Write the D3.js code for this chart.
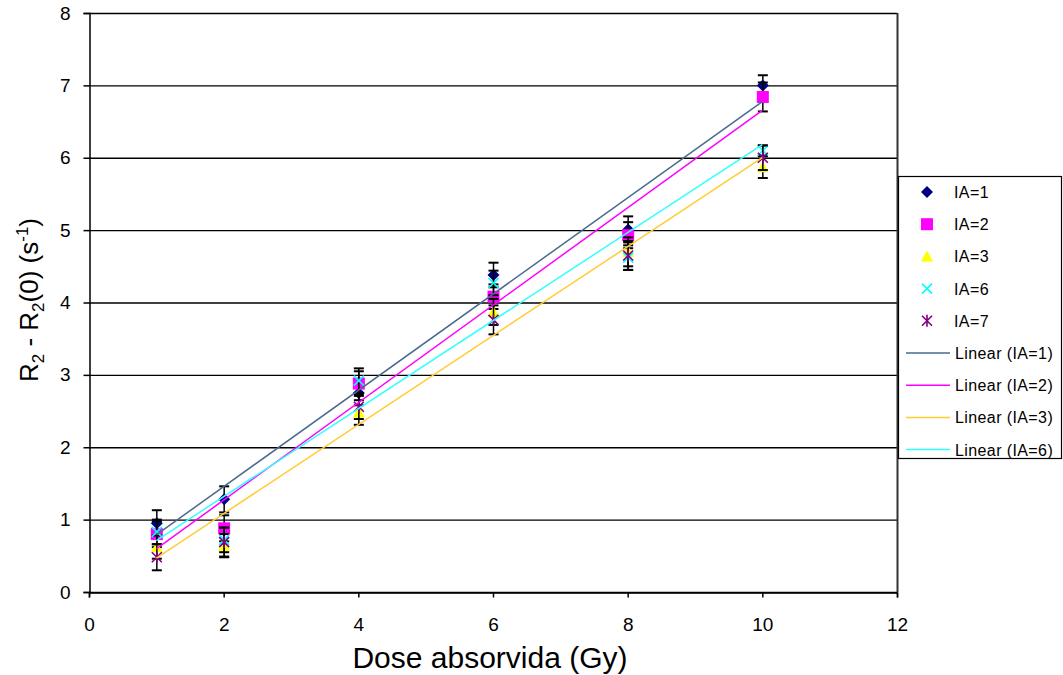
<!DOCTYPE html>
<html>
<head>
<meta charset="utf-8">
<script src="https://cdn.jsdelivr.net/npm/d3@7"></script>
<style>
  body { margin: 0; background: #fff; }
  text { font-family: "Liberation Sans", Arial, sans-serif; }
</style>
</head>
<body>
<div id="chart"></div>
<script>
// data
var doses = [1, 2, 4, 6, 8, 10];
var ia1 = [0.95, 1.28, 2.75, 4.38, 5.01, 7.00];
var ia2 = [0.80, 0.88, 2.88, 4.08, 4.93, 6.84];
var ia3 = [0.62, 0.64, 2.48, 3.87, 4.70, 5.87];
var ia6 = [0.83, 0.72, 2.92, 4.27, 4.62, 6.10];
var ia7 = [0.48, 0.69, 2.56, 3.76, 4.65, 6.00];
var err1 = [0.18, 0.18, 0.17, 0.17, 0.18, 0.14];
var err2 = [0.18, 0.18, 0.17, 0.17, 0.18, 0.20];
var err3 = [0.16, 0.16, 0.17, 0.18, 0.20, 0.15];
var err6 = [0.17, 0.17, 0.17, 0.17, 0.17, 0.07];
var err7 = [0.18, 0.20, 0.17, 0.20, 0.20, 0.17];
var seriesNames = ["IA=1", "IA=2", "IA=3", "IA=6", "IA=7"];
var xTicks = [0, 2, 4, 6, 8, 10, 12];
var yTicks = [0, 1, 2, 3, 4, 5, 6, 7, 8];

var svgWidth = 1063;
var svgHeight = 675;
var margin = { top: 13, right: 166, bottom: 83, left: 89 };
var width = 897 - margin.left;
var height = 592 - margin.top;

var series = [
  { name: seriesNames[0], values: ia1, err: err1, color: "#000080", shape: "diamond", trend: "#4a6a8e" },
  { name: seriesNames[1], values: ia2, err: err2, color: "#ff00ff", shape: "square", trend: "#ff00ff" },
  { name: seriesNames[2], values: ia3, err: err3, color: "#ffff00", shape: "triangle", trend: "#ffcc33" },
  { name: seriesNames[3], values: ia6, err: err6, color: "#00ffff", shape: "x", trend: "#33ffff" },
  { name: seriesNames[4], values: ia7, err: err7, color: "#800080", shape: "star", trend: null }
];

var svg = d3.select("#chart").append("svg")
  .attr("width", svgWidth)
  .attr("height", svgHeight);

var chartGroup = svg.append("g")
  .attr("transform", `translate(${margin.left},${margin.top})`);

var xScale = d3.scaleLinear().domain([0, 12]).range([0, width]);
var yScale = d3.scaleLinear().domain([0, 8]).range([height, 0]);

// gridlines
chartGroup.append("g")
  .selectAll("line")
  .data(yTicks)
  .enter()
  .append("line")
  .attr("x1", 0)
  .attr("x2", width)
  .attr("y1", d => yScale(d) + 0.5)
  .attr("y2", d => yScale(d) + 0.5)
  .attr("stroke", "#000")
  .attr("stroke-width", 1.3);

// right border
chartGroup.append("line")
  .attr("x1", width + 0.5).attr("x2", width + 0.5)
  .attr("y1", 0).attr("y2", height)
  .attr("stroke", "#333").attr("stroke-width", 2);

// axes
var bottomAxis = d3.axisBottom(xScale).tickValues(xTicks).tickSize(5).tickPadding(20);
var leftAxis = d3.axisLeft(yScale).tickValues(yTicks).tickSize(6).tickPadding(13);

var xAxis = chartGroup.append("g")
  .attr("transform", `translate(0,${height + 0.5})`)
  .call(bottomAxis);
var yAxis = chartGroup.append("g")
  .attr("transform", "translate(0.5,0)")
  .call(leftAxis);

[xAxis, yAxis].forEach(function(ax) {
  ax.attr("font-size", 19).attr("font-family", "'Liberation Sans Narrow', 'Liberation Sans', Arial, sans-serif");
  ax.select(".domain").attr("stroke", "#000").attr("stroke-width", 1.5);
  ax.selectAll(".tick line").attr("stroke", "#000").attr("stroke-width", 1.5);
  ax.selectAll("text").attr("fill", "#000")
    .style("font-family", "'Liberation Sans Narrow', 'Liberation Sans', Arial, sans-serif");
});

// trendlines (least squares)
function fit(values) {
  var mx = d3.mean(doses), my = d3.mean(values);
  var sxy = d3.sum(doses, (x, i) => (x - mx) * (values[i] - my));
  var sxx = d3.sum(doses, x => (x - mx) * (x - mx));
  var b = sxy / sxx;
  return { b: b, a: my - b * mx };
}

// error bars and markers, series by series
function marker(g, shape, color) {
  if (shape === "diamond") {
    g.append("path").attr("d", "M0,-6L6,0L0,6L-6,0Z").attr("fill", color);
  } else if (shape === "square") {
    g.append("rect").attr("x", -6).attr("y", -6).attr("width", 12).attr("height", 12).attr("fill", color);
  } else if (shape === "triangle") {
    g.append("path").attr("d", "M0,-6L6,5L-6,5Z").attr("fill", color);
  } else if (shape === "x") {
    g.append("path").attr("d", "M-5,-5L5,5M-5,5L5,-5").attr("stroke", color).attr("stroke-width", 1.6).attr("fill", "none");
  } else {
    g.append("path").attr("d", "M-5,-5L5,5M-5,5L5,-5M0,-6L0,6").attr("stroke", color).attr("stroke-width", 1.6).attr("fill", "none");
  }
}

series.forEach(function(s) {
  var pts = doses.map((x, i) => ({ x: x, y: s.values[i], e: s.err[i] }));
  var eg = chartGroup.append("g");
  pts.forEach(function(p) {
    var cx = xScale(p.x) + 0.5;
    var yt = yScale(p.y + p.e), yb = yScale(p.y - p.e);
    eg.append("line").attr("x1", cx).attr("x2", cx).attr("y1", yt).attr("y2", yb)
      .attr("stroke", "#000").attr("stroke-width", 1.5);
    [yt, yb].forEach(function(yy) {
      eg.append("line").attr("x1", cx - 5).attr("x2", cx + 5).attr("y1", yy).attr("y2", yy)
        .attr("stroke", "#000").attr("stroke-width", 2);
    });
  });
  pts.forEach(function(p) {
    var g = chartGroup.append("g")
      .attr("transform", `translate(${xScale(p.x) + 0.5},${yScale(p.y)})`);
    marker(g, s.shape, s.color);
  });
});

series.forEach(function(s) {
  if (!s.trend) return;
  var f = fit(s.values);
  chartGroup.append("line")
    .attr("x1", xScale(1)).attr("y1", yScale(f.a + f.b * 1))
    .attr("x2", xScale(10)).attr("y2", yScale(f.a + f.b * 10))
    .attr("stroke", s.trend).attr("stroke-width", 1.5);
});

// axis titles
svg.append("text")
  .attr("x", 490).attr("y", 668)
  .attr("text-anchor", "middle")
  .attr("font-size", 30)
  .text("Dose absorvida (Gy)");

var yTitle = svg.append("text")
  .attr("transform", "translate(38,300) rotate(-90)")
  .attr("text-anchor", "middle")
  .attr("font-size", 26);
yTitle.append("tspan").text("R");
yTitle.append("tspan").attr("font-size", 17).attr("dy", 6).text("2");
yTitle.append("tspan").attr("dy", -6).text(" - R");
yTitle.append("tspan").attr("font-size", 17).attr("dy", 6).text("2");
yTitle.append("tspan").attr("dy", -6).text("(0) (s");
yTitle.append("tspan").attr("font-size", 17).attr("dy", -10).text("-1");
yTitle.append("tspan").attr("dy", 10).text(")");

// legend
var legend = svg.append("g").attr("transform", "translate(898,176)");
legend.append("rect")
  .attr("x", 0.5).attr("y", 0.5).attr("width", 163).attr("height", 282)
  .attr("fill", "#fff").attr("stroke", "#000").attr("stroke-width", 1.2);

var legendItems = series.map(s => ({ label: s.name, kind: "marker", s: s }))
  .concat(series.filter(s => s.trend).map(s => ({ label: "Linear (" + s.name + ")", kind: "line", s: s })));

legendItems.forEach(function(item, i) {
  var yy = 16 + i * 32.2;
  var g = legend.append("g").attr("transform", `translate(0,${yy})`);
  if (item.kind === "marker") {
    var mg = g.append("g").attr("transform", "translate(29,0)");
    marker(mg, item.s.shape, item.s.color);
    g.append("text").attr("x", 56).attr("y", 6).attr("font-size", 16)
      .attr("letter-spacing", 0.4).text(item.label);
  } else {
    g.append("line").attr("x1", 8).attr("x2", 52).attr("y1", 0).attr("y2", 0)
      .attr("stroke", item.s.trend).attr("stroke-width", 1.5);
    g.append("text").attr("x", 57).attr("y", 6).attr("font-size", 16)
      .attr("letter-spacing", 0.4).text(item.label);
  }
});
</script>
</body>
</html>
